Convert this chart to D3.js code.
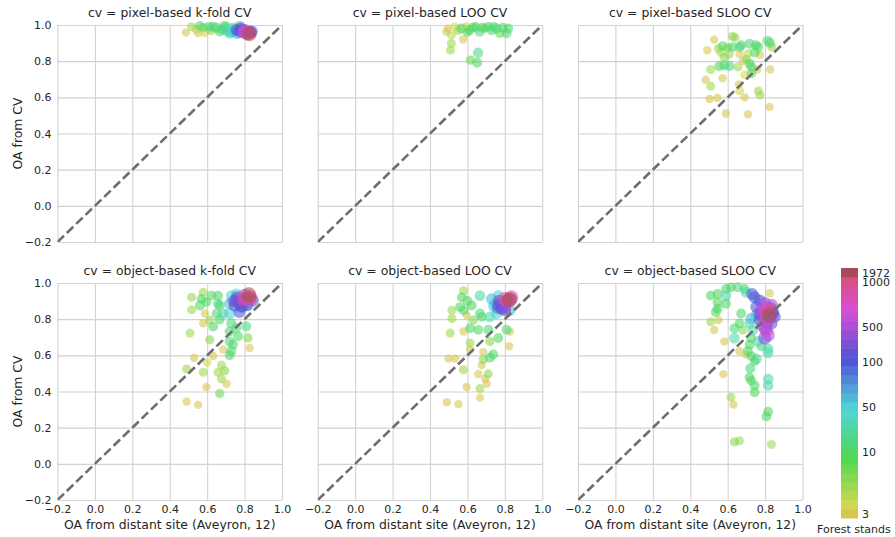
<!DOCTYPE html>
<html>
<head>
<meta charset="utf-8">
<script src="https://cdn.jsdelivr.net/npm/d3@7"></script>
<style>
body { margin: 0; background: #fff; }
text { font-family: "DejaVu Sans", sans-serif; fill: #262626; }
</style>
</head>
<body>
<svg id="chart" width="895" height="537"></svg>
<script>
// each point: [OA from distant site, OA from CV, number of forest stands]
const PIXEL_KFOLD = [
    [0.486,0.958,3],[0.552,0.955,3],[0.587,0.958,4],[0.516,0.99,6],[0.56,0.995,12],[0.58,0.985,8],
    [0.61,0.99,15],[0.632,0.99,12],[0.65,0.985,20],[0.668,0.964,14],[0.68,0.975,18],[0.704,0.99,16],
    [0.72,0.96,30],[0.721,0.955,38],[0.739,0.964,55],[0.75,0.985,20],[0.757,0.973,110],[0.775,0.995,15],
    [0.775,0.964,150],[0.79,0.97,250],[0.802,0.969,500],[0.81,0.955,300],[0.838,0.964,120],[0.82,0.955,900],
    [0.825,0.951,1972],[0.62,0.97,7],[0.54,0.975,5],[0.7,0.97,25],[0.76,0.955,70],[0.69,0.995,12],
    [0.78,0.98,200],[0.8,0.96,600],[0.73,0.98,45],[0.83,0.96,400]
];
const PIXEL_LOO = [
    [0.4875,0.963,3],[0.496,0.981,3],[0.514,0.944,5],[0.514,0.898,6],[0.509,0.861,6],[0.532,0.99,4],
    [0.577,0.92,3],[0.568,0.981,12],[0.595,0.99,5],[0.6125,0.972,14],[0.63,0.987,12],[0.645,0.99,10],
    [0.666,0.963,15],[0.68,0.985,12],[0.693,0.981,7],[0.729,0.972,18],[0.74,0.99,12],[0.755,0.981,20],
    [0.773,0.954,8],[0.79,0.985,14],[0.809,0.954,16],[0.818,0.981,12],[0.657,0.846,25],[0.616,0.806,8],
    [0.652,0.791,14],[0.55,0.97,6],[0.71,0.99,12],[0.6,0.96,9]
];
const PIXEL_SLOO = [
    [0.527,0.919,3],[0.491,0.86,3],[0.627,0.936,7],[0.64,0.93,6],[0.573,0.883,12],[0.6,0.874,7],
    [0.627,0.878,13],[0.664,0.878,15],[0.673,0.888,12],[0.718,0.896,16],[0.751,0.888,14],[0.764,0.878,12],
    [0.813,0.913,18],[0.827,0.9,14],[0.836,0.878,6],[0.773,0.835,3],[0.709,0.842,5],[0.745,0.848,12],
    [0.664,0.839,3],[0.609,0.839,6],[0.564,0.848,6],[0.582,0.821,7],[0.555,0.772,14],[0.582,0.777,12],
    [0.609,0.772,16],[0.655,0.768,6],[0.682,0.8,3],[0.718,0.786,13],[0.727,0.768,12],[0.758,0.754,3],
    [0.827,0.754,3],[0.509,0.754,6],[0.573,0.706,3],[0.691,0.724,4],[0.727,0.733,9],[0.482,0.697,3],
    [0.509,0.662,6],[0.66,0.671,3],[0.664,0.635,4],[0.691,0.6,3],[0.504,0.591,3],[0.545,0.596,3],
    [0.764,0.635,6],[0.773,0.612,6],[0.824,0.547,3],[0.591,0.511,3],[0.709,0.506,3],[0.55,0.87,6],
    [0.7,0.81,7]
];
const OBJECT_KFOLD = [
    [0.823,0.935,1972],[0.8,0.912,900],[0.827,0.912,800],[0.773,0.894,150],[0.756,0.903,300],[0.747,0.876,110],
    [0.773,0.84,120],[0.729,0.93,40],[0.756,0.939,55],[0.72,0.885,60],[0.791,0.867,70],[0.818,0.876,60],
    [0.844,0.903,130],[0.658,0.93,14],[0.623,0.93,12],[0.579,0.948,6],[0.57,0.912,12],[0.517,0.921,6],
    [0.561,0.876,14],[0.596,0.894,12],[0.658,0.885,16],[0.667,0.876,13],[0.517,0.852,6],[0.588,0.831,3],
    [0.65,0.831,15],[0.685,0.831,32],[0.72,0.831,55],[0.614,0.795,6],[0.667,0.798,14],[0.579,0.777,3],
    [0.632,0.759,13],[0.729,0.777,18],[0.756,0.75,14],[0.809,0.759,15],[0.508,0.723,6],[0.72,0.732,16],
    [0.765,0.705,14],[0.818,0.696,7],[0.827,0.641,3],[0.72,0.677,15],[0.738,0.659,14],[0.729,0.623,16],
    [0.72,0.6,13],[0.614,0.686,7],[0.685,0.632,3],[0.632,0.596,3],[0.53,0.587,3],[0.49,0.524,6],
    [0.579,0.506,6],[0.676,0.546,6],[0.694,0.515,7],[0.658,0.506,6],[0.676,0.47,6],[0.596,0.425,3],
    [0.703,0.443,3],[0.667,0.389,8],[0.49,0.344,3],[0.552,0.326,3],[0.6,0.56,4],
    [0.76,0.92,200],[0.79,0.9,400],[0.81,0.88,250],[0.78,0.87,130],[0.74,0.9,90],[0.8,0.93,600],
    [0.83,0.92,1000]
];
const OBJECT_LOO = [
    [0.823,0.906,1972],[0.8,0.912,900],[0.835,0.921,800],[0.765,0.876,150],[0.782,0.858,120],[0.8,0.867,400],
    [0.747,0.885,55],[0.729,0.912,60],[0.765,0.93,50],[0.756,0.831,55],[0.72,0.813,35],[0.827,0.849,60],
    [0.667,0.93,30],[0.579,0.957,6],[0.57,0.921,12],[0.561,0.867,13],[0.623,0.876,14],[0.579,0.849,12],
    [0.517,0.849,6],[0.517,0.804,6],[0.596,0.822,3],[0.667,0.831,15],[0.676,0.813,13],[0.632,0.795,7],
    [0.614,0.75,14],[0.508,0.723,6],[0.579,0.732,3],[0.658,0.741,13],[0.712,0.741,16],[0.809,0.741,15],
    [0.827,0.732,3],[0.765,0.696,14],[0.72,0.677,7],[0.614,0.668,6],[0.614,0.632,3],[0.823,0.65,3],
    [0.685,0.618,3],[0.738,0.605,14],[0.72,0.587,13],[0.685,0.578,7],[0.499,0.582,3],[0.535,0.582,3],
    [0.579,0.52,6],[0.676,0.546,3],[0.658,0.497,3],[0.711,0.497,7],[0.694,0.47,3],[0.596,0.425,3],
    [0.703,0.443,3],[0.667,0.416,6],[0.667,0.366,3],[0.49,0.341,3],[0.552,0.33,3],[0.6,0.9,14],
    [0.77,0.9,200],[0.79,0.88,300],[0.81,0.9,600],[0.76,0.86,80],[0.8,0.85,130],[0.83,0.91,1000],
    [0.74,0.87,45]
];
const OBJECT_SLOO = [
    [0.816,0.831,900],[0.825,0.849,1000],[0.807,0.813,800],[0.834,0.876,500],[0.798,0.885,450],[0.771,0.903,120],
    [0.744,0.921,110],[0.753,0.867,130],[0.78,0.849,500],[0.771,0.795,140],[0.789,0.767,500],[0.807,0.74,600],
    [0.816,0.713,500],[0.798,0.695,300],[0.843,0.84,120],[0.852,0.813,110],[0.834,0.776,130],[0.822,0.82,1972],
    [0.753,0.822,55],[0.726,0.804,60],[0.717,0.776,35],[0.735,0.74,35],[0.726,0.695,14],[0.762,0.677,32],
    [0.78,0.65,15],[0.816,0.635,35],[0.816,0.614,38],[0.717,0.659,13],[0.708,0.623,14],[0.726,0.596,12],
    [0.744,0.568,13],[0.753,0.58,30],[0.721,0.527,15],[0.717,0.478,13],[0.726,0.46,12],[0.744,0.433,14],
    [0.744,0.396,12],[0.816,0.469,35],[0.816,0.433,32],[0.816,0.288,14],[0.807,0.261,13],[0.834,0.107,6],
    [0.636,0.121,7],[0.663,0.128,6],[0.618,0.369,6],[0.631,0.328,3],[0.577,0.496,3],[0.663,0.623,3],
    [0.699,0.604,3],[0.672,0.831,14],[0.663,0.776,13],[0.636,0.749,15],[0.681,0.74,7],[0.636,0.695,32],
    [0.582,0.677,3],[0.51,0.786,6],[0.551,0.795,3],[0.528,0.74,3],[0.51,0.93,12],[0.546,0.939,13],
    [0.591,0.967,14],[0.618,0.976,12],[0.654,0.976,15],[0.69,0.967,12],[0.546,0.894,14],[0.591,0.93,32],
    [0.591,0.885,13],[0.546,0.858,12],[0.537,0.84,14],[0.699,0.948,35],[0.825,0.943,3],[0.731,0.939,110],
    [0.8,0.86,700],[0.82,0.8,600],[0.79,0.82,400],[0.83,0.86,300],[0.81,0.78,250],[0.84,0.83,200],
    [0.8,0.75,350],[0.77,0.83,150]
];

const PANELS = [PIXEL_KFOLD, PIXEL_LOO, PIXEL_SLOO, OBJECT_KFOLD, OBJECT_LOO, OBJECT_SLOO];
const TITLES = [
    "cv = pixel-based k-fold CV", "cv = pixel-based LOO CV", "cv = pixel-based SLOO CV",
    "cv = object-based k-fold CV", "cv = object-based LOO CV", "cv = object-based SLOO CV"
];
const AXIS_TICKS = [-0.2, 0.0, 0.2, 0.4, 0.6, 0.8, 1.0];
const CB_TICKS = [3, 10, 50, 100, 500, 1000, 1972];

const W = 224.5, H = 217;
const LEFT = 57.5, TOP = 25, COL_STEP = 260.25, ROW_STEP = 258;
const N_BANDS = 28;

let svg = d3.select("#chart");

// colour norm: stands -> position along the colour bar
let cbNorm = d3.scaleLinear()
    .domain(CB_TICKS)
    .range([0.016, 0.264, 0.444, 0.624, 0.764, 0.944, 0.98])
    .clamp(true);

function bandColor(i) {
    if (i >= N_BANDS - 1) return "#a64b57";
    let hue = 52 + i / (N_BANDS - 2) * 283;
    return d3.hsl(hue, 0.63, 0.58).formatHex();
}

function standColor(v) {
    let b = Math.min(N_BANDS - 1, Math.floor(cbNorm(v) * N_BANDS));
    return bandColor(b);
}

let rScale = d3.scaleLog().domain([3, 1972]).range([4.2, 7.4]);

let x = d3.scaleLinear().domain([-0.2, 1.0]).range([0, W]);
let y = d3.scaleLinear().domain([-0.2, 1.0]).range([H, 0]);

svg.append("defs").append("clipPath").attr("id", "clip")
    .append("rect").attr("width", W).attr("height", H);

PANELS.forEach(function (data, k) {
    let col = k % 3, row = Math.floor(k / 3);
    let g = svg.append("g")
        .attr("transform", "translate(" + (LEFT + col * COL_STEP) + "," + (TOP + row * ROW_STEP) + ")");

    // grid + tick labels
    let yAxis = d3.axisLeft(y).tickValues(AXIS_TICKS).tickSize(-W).tickPadding(6)
        .tickFormat(col === 0 ? d3.format(".1f") : "");
    let xAxis = d3.axisBottom(x).tickValues(AXIS_TICKS).tickSize(-H).tickPadding(5)
        .tickFormat(row === 1 ? d3.format(".1f") : "");

    let ga = g.append("g").call(yAxis);
    let gb = g.append("g").attr("transform", "translate(0," + H + ")").call(xAxis);
    [ga, gb].forEach(function (a) {
        a.select(".domain").remove();
        a.selectAll("line").attr("stroke", "#d2d2d2").attr("stroke-width", 1.1);
        a.selectAll("text").attr("font-size", 11).attr("fill", "#262626")
            .attr("font-family", "DejaVu Sans");
    });

    // points, small stands first
    let pts = data.slice().sort(function (a, b) { return a[2] - b[2]; });
    g.append("g").selectAll("circle")
        .data(pts)
        .enter()
        .append("circle")
        .attr("cx", function (d) { return x(d[0]); })
        .attr("cy", function (d) { return y(d[1]); })
        .attr("r", function (d) { return rScale(d[2]); })
        .style("fill", function (d) { return standColor(d[2]); })
        .style("fill-opacity", 0.58)
        .style("stroke", "none");

    // 1:1 line
    g.append("line")
        .attr("clip-path", "url(#clip)")
        .attr("x1", x(-0.2)).attr("y1", y(-0.2))
        .attr("x2", x(1.0)).attr("y2", y(1.0))
        .attr("stroke", "#6e6e6e")
        .attr("stroke-width", 2.6)
        .attr("stroke-dasharray", "9,4");

    g.append("text")
        .attr("x", W / 2).attr("y", -8)
        .attr("text-anchor", "middle")
        .attr("font-size", 12.4)
        .text(TITLES[k]);

    if (col === 0) {
        g.append("text")
            .attr("transform", "translate(-36," + (H / 2) + ") rotate(-90)")
            .attr("text-anchor", "middle")
            .attr("font-size", 12.4)
            .text("OA from CV");
    }
    if (row === 1) {
        g.append("text")
            .attr("x", W / 2).attr("y", H + 29)
            .attr("text-anchor", "middle")
            .attr("font-size", 12.4)
            .text("OA from distant site (Aveyron, 12)");
    }
});

// colour bar
let CB_X = 841, CB_W = 17, CB_TOP = 268, CB_BOT = 518;
let cbY = d3.scaleLinear().domain([0, 1]).range([CB_BOT, CB_TOP]);
let cb = svg.append("g");
cb.selectAll("rect")
    .data(d3.range(N_BANDS))
    .enter()
    .append("rect")
    .attr("x", CB_X)
    .attr("y", function (i) { return cbY((i + 1) / N_BANDS); })
    .attr("width", CB_W)
    .attr("height", cbY(0) - cbY(1 / N_BANDS) + 0.5)
    .style("fill", bandColor);

cb.selectAll("text.tick")
    .data(CB_TICKS)
    .enter()
    .append("text")
    .attr("class", "tick")
    .attr("x", CB_X + CB_W + 4)
    .attr("y", function (d) { return cbY(cbNorm(d)); })
    .attr("dy", "0.35em")
    .attr("font-size", 11)
    .text(function (d) { return d; });

cb.append("text")
    .attr("x", 817).attr("y", 533)
    .attr("font-size", 11)
    .text("Forest stands");
</script>
</body>
</html>
